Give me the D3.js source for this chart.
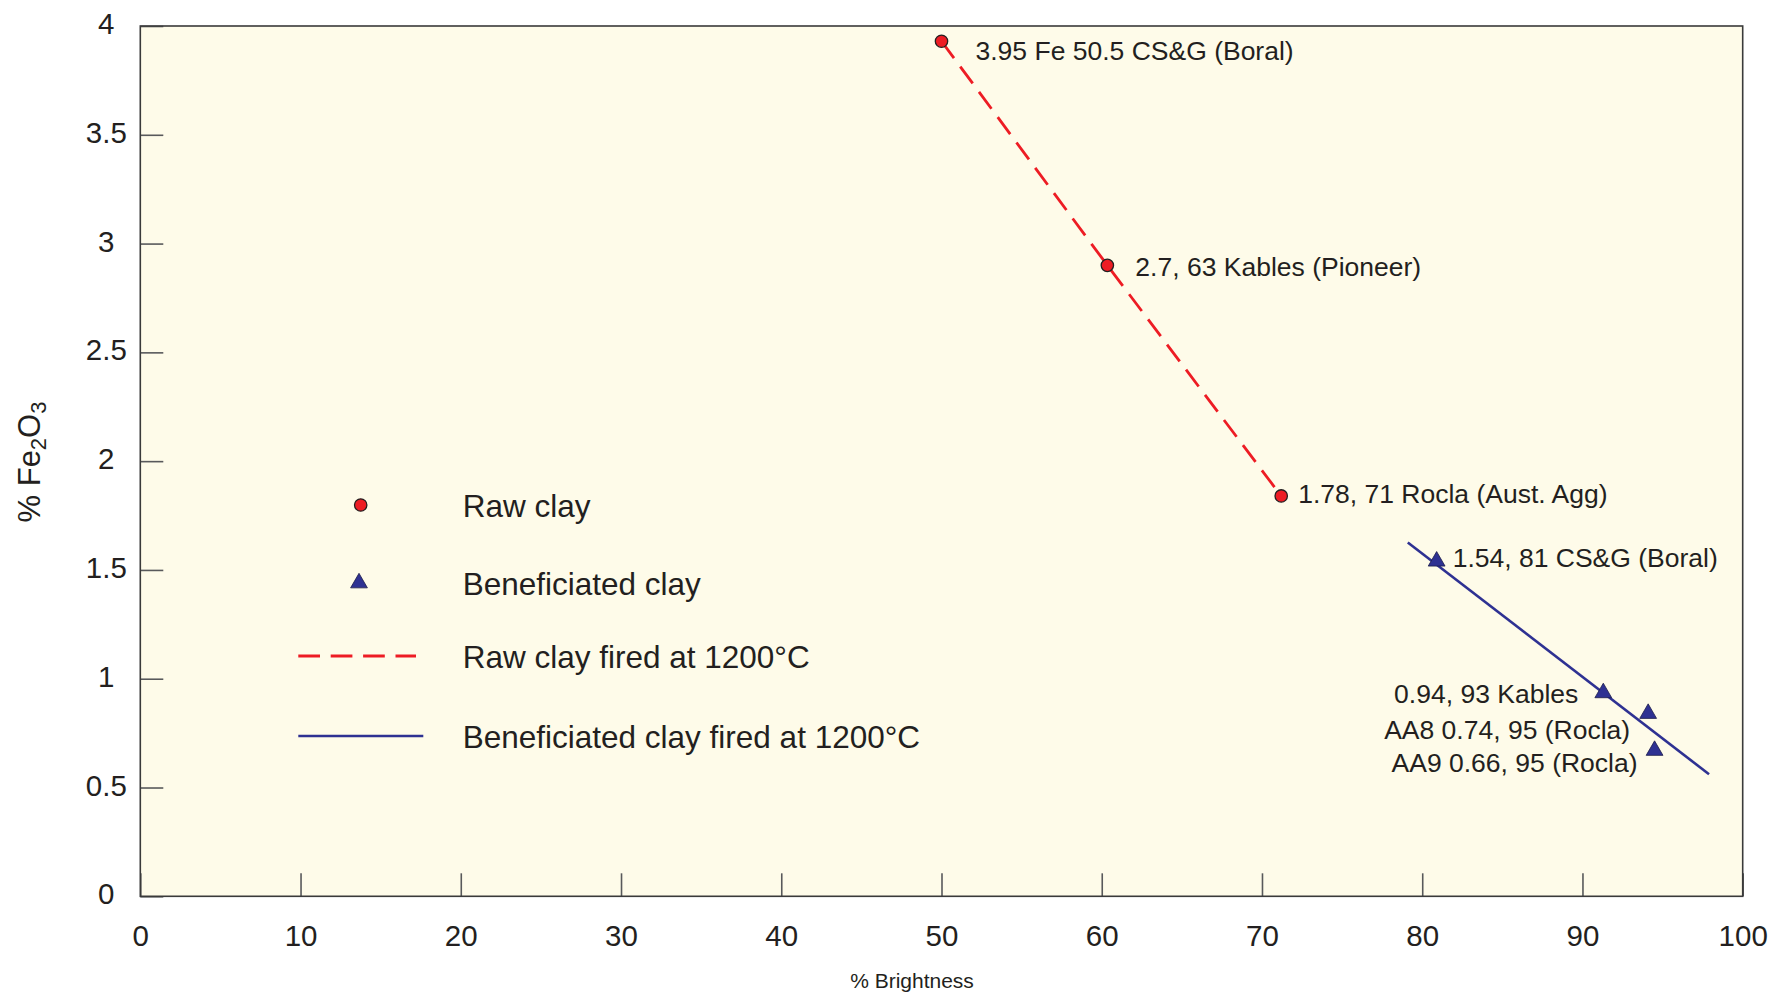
<!DOCTYPE html>
<html>
  <head>
    <meta charset="utf-8" />
    <script src="https://d3js.org/d3.v7.min.js"></script>
    <title>Fe2O3 vs Brightness</title>
    <style>
        body { margin: 0; background: #fff; }
        svg text { font-family: "Liberation Sans", Arial, Helvetica, sans-serif; fill: #231f20; }
    </style>
  </head>
  <body>
    <svg id="chart" width="1777" height="995"></svg>

    <script>
    // raw clay points
    var rawBrightness = [50.0, 60.35, 71.2];
    var rawFe = [3.93, 2.90, 1.84];
    var rawLabels = ["3.95 Fe 50.5 CS&G (Boral)", "2.7, 63 Kables (Pioneer)", "1.78, 71 Rocla (Aust. Agg)"];

    // beneficiated clay points
    var benBrightness = [80.9, 91.3, 94.1, 94.5];
    var benFe = [1.54, 0.935, 0.84, 0.67];
    var benLabels = ["1.54, 81 CS&G (Boral)", "0.94, 93 Kables", "AA8 0.74, 95 (Rocla)", "AA9 0.66, 95 (Rocla)"];

    // fitted line for beneficiated clay
    var benLineBrightness = [79.1, 97.9];
    var benLineFe = [1.626, 0.561];

    var xTicks = [0, 10, 20, 30, 40, 50, 60, 70, 80, 90, 100];
    var yTicks = [0, 0.5, 1, 1.5, 2, 2.5, 3, 3.5, 4];

    var legendItems = ["Raw clay", "Beneficiated clay", "Raw clay fired at 1200°C", "Beneficiated clay fired at 1200°C"];

    // label offsets in pixels from the point
    var rawOffsets = [[34, 19, "start"], [28, 11, "start"], [17, 7, "start"]];
    var benOffsets = [[16, 6, "start"], [-25, 10, "end"], [-18, 25, "end"], [-17, 21, "end"]];

    var red = "#ed1c24", blue = "#2e3192", ink = "#231f20";

    var svg = d3.select("#chart");
    var pLeft = 140.3, pRight = 1742.7, pTop = 26, pBottom = 896.3;

    var x = d3.scaleLinear().domain([0, 100]).range([pLeft, pRight]);
    var y = d3.scaleLinear().domain([0, 4]).range([pBottom, pTop]);

    // plot background
    svg.append("rect")
        .attr("x", pLeft).attr("y", pTop)
        .attr("width", pRight - pLeft).attr("height", pBottom - pTop)
        .attr("fill", "#fefbe9");

    // axes
    var xAxis = svg.append("g")
        .attr("transform", "translate(0," + pBottom + ")")
        .call(d3.axisBottom(x).tickValues(xTicks).tickSize(-23).tickFormat(d3.format("d")));
    xAxis.select(".domain").remove();
    xAxis.selectAll("line").attr("stroke", "#58595b").attr("stroke-width", 1.6);
    xAxis.selectAll("text")
        .attr("y", 50).attr("dy", 0)
        .attr("font-size", 29.5).attr("fill", ink);

    var yAxis = svg.append("g")
        .attr("transform", "translate(" + pLeft + ",0)")
        .call(d3.axisLeft(y).tickValues(yTicks).tickSize(-23).tickFormat(function(d){ return String(d); }));
    yAxis.select(".domain").remove();
    yAxis.selectAll("line").attr("stroke", "#58595b").attr("stroke-width", 1.6);
    yAxis.selectAll("text")
        .attr("x", -34).attr("dy", 0).attr("y", 7.5)
        .attr("text-anchor", "middle")
        .attr("font-size", 29.5).attr("fill", ink);
    svg.selectAll("g").attr("font-family", null).attr("font-size", null);

    // frame
    svg.append("rect")
        .attr("x", pLeft).attr("y", pTop)
        .attr("width", pRight - pLeft).attr("height", pBottom - pTop)
        .attr("fill", "none").attr("stroke", "#3a3a3a").attr("stroke-width", 1.6);

    // axis titles
    svg.append("text")
        .attr("x", 912).attr("y", 988)
        .attr("text-anchor", "middle").attr("font-size", 21)
        .text("% Brightness");

    var yt = svg.append("text")
        .attr("transform", "translate(40,462) rotate(-90)")
        .attr("text-anchor", "middle").attr("font-size", 31);
    yt.append("tspan").text("% Fe");
    yt.append("tspan").attr("dy", 6).attr("font-size", 22).text("2");
    yt.append("tspan").attr("dy", -6).text("O");
    yt.append("tspan").attr("dy", 6).attr("font-size", 22).text("3");

    // lines
    var line = d3.line().x(function(d){ return x(d[0]); }).y(function(d){ return y(d[1]); });
    var rawPts = d3.zip(rawBrightness, rawFe);
    var benLinePts = d3.zip(benLineBrightness, benLineFe);

    svg.append("path")
        .attr("d", line(rawPts))
        .attr("fill", "none").attr("stroke", red)
        .attr("stroke-width", 2.8).attr("stroke-dasharray", "21 10.5");

    svg.append("path")
        .attr("d", line(benLinePts))
        .attr("fill", "none").attr("stroke", blue)
        .attr("stroke-width", 2.6);

    // raw clay markers
    svg.selectAll("circle.raw")
        .data(rawPts)
        .enter().append("circle")
        .attr("class", "raw")
        .attr("cx", function(d){ return x(d[0]); })
        .attr("cy", function(d){ return y(d[1]); })
        .attr("r", 6.2)
        .attr("fill", red).attr("stroke", ink).attr("stroke-width", 1.3);

    // beneficiated markers
    var tri = d3.symbol().type(d3.symbolTriangle).size(122);
    var benPts = d3.zip(benBrightness, benFe);
    svg.selectAll("path.ben")
        .data(benPts)
        .enter().append("path")
        .attr("class", "ben")
        .attr("d", tri)
        .attr("transform", function(d){ return "translate(" + x(d[0]) + "," + y(d[1]) + ")"; })
        .attr("fill", blue).attr("stroke", "#1d1d4a").attr("stroke-width", 0.8);

    // point labels
    svg.selectAll("text.rawLabel")
        .data(rawPts)
        .enter().append("text")
        .attr("class", "rawLabel")
        .attr("x", function(d, i){ return x(d[0]) + rawOffsets[i][0]; })
        .attr("y", function(d, i){ return y(d[1]) + rawOffsets[i][1]; })
        .attr("text-anchor", function(d, i){ return rawOffsets[i][2]; })
        .attr("font-size", 26.5)
        .text(function(d, i){ return rawLabels[i]; });

    svg.selectAll("text.benLabel")
        .data(benPts)
        .enter().append("text")
        .attr("class", "benLabel")
        .attr("x", function(d, i){ return x(d[0]) + benOffsets[i][0]; })
        .attr("y", function(d, i){ return y(d[1]) + benOffsets[i][1]; })
        .attr("text-anchor", function(d, i){ return benOffsets[i][2]; })
        .attr("font-size", 26.5)
        .text(function(d, i){ return benLabels[i]; });

    // legend
    var legend = svg.append("g").attr("class", "legend");
    var rowY = [505, 583, 656, 736];
    legend.append("circle")
        .attr("cx", 360.7).attr("cy", rowY[0]).attr("r", 6.2)
        .attr("fill", red).attr("stroke", ink).attr("stroke-width", 1.3);
    legend.append("path")
        .attr("d", tri)
        .attr("transform", "translate(359," + rowY[1] + ")")
        .attr("fill", blue).attr("stroke", "#1d1d4a").attr("stroke-width", 0.8);
    legend.append("line")
        .attr("x1", 298.3).attr("x2", 416).attr("y1", rowY[2]).attr("y2", rowY[2])
        .attr("stroke", red).attr("stroke-width", 2.8).attr("stroke-dasharray", "21.7 10.7");
    legend.append("line")
        .attr("x1", 298.3).attr("x2", 423.3).attr("y1", rowY[3]).attr("y2", rowY[3])
        .attr("stroke", blue).attr("stroke-width", 2.6);

    legend.selectAll("text")
        .data(legendItems)
        .enter().append("text")
        .attr("x", 462.7)
        .attr("y", function(d, i){ return rowY[i] + 12; })
        .attr("font-size", 31.5)
        .text(function(d){ return d; });
    </script>
  </body>
</html>
